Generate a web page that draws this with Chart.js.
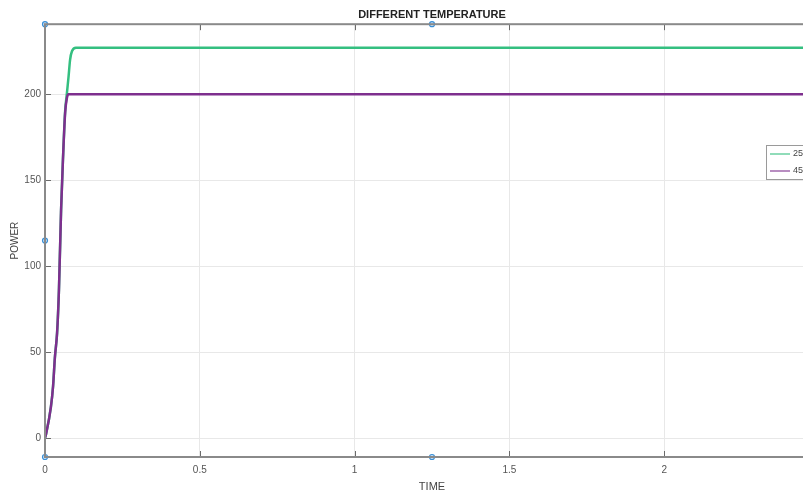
<!DOCTYPE html>
<html>
<head>
<meta charset="utf-8">
<script src="https://cdn.jsdelivr.net/npm/chart.js@4"></script>
<style>
  html, body { margin: 0; padding: 0; background: #fff; overflow: hidden; }
  #wrap { position: relative; width: 840px; height: 497px; }
</style>
</head>
<body>
<div id="wrap"><canvas id="chart"></canvas></div>
<script>
// values
const time = [0, 0.003, 0.019, 0.026, 0.032, 0.039, 0.045, 0.052, 0.058, 0.065, 0.071, 0.076, 0.081, 0.087, 0.1, 0.2, 2.5];
const power25 = [0, 2, 18, 30, 47, 61, 86, 133, 162, 190, 201, 210, 220, 225, 227, 227, 227];
const power45 = [0, 2, 18, 30, 47, 61, 86, 133, 162, 189, 198, 200, 200, 200, 200, 200, 200];
const seriesLabels = ['25°C', '45°C'];
const xTicks = [0, 0.5, 1, 1.5, 2, 2.5];
const yTicks = [0, 50, 100, 150, 200];
const X_MIN = 0, X_MAX = 2.5, Y_MIN = -11, Y_MAX = 240.7;
// selection handles visible on the pasted figure
const handleX = [0, 1.25, 0, 0, 1.25];
const handleY = [Y_MAX, Y_MAX, (Y_MAX + Y_MIN) / 2, Y_MIN, Y_MIN];

const GREEN = '#34bf80';
const PURPLE = '#7e2f8e';
const FONT = "'Liberation Sans', Arial, sans-serif";

const toPoints = (xs, ys) => xs.map((x, i) => ({ x, y: ys[i] }));

// box outline, inward tick marks and the legend, MATLAB style
const figureDecor = {
  id: 'figureDecor',
  afterDatasetsDraw(chart) {
    const { ctx, chartArea: a, scales } = chart;
    ctx.save();
    ctx.strokeStyle = '#6b6b6b';
    ctx.lineWidth = 1;
    scales.x.ticks.forEach((t) => {
      const px = Math.round(scales.x.getPixelForValue(t.value)) + 0.5;
      ctx.beginPath();
      ctx.moveTo(px, a.bottom); ctx.lineTo(px, a.bottom - 6);
      ctx.moveTo(px, a.top); ctx.lineTo(px, a.top + 6);
      ctx.stroke();
    });
    scales.y.ticks.forEach((t) => {
      const py = Math.round(scales.y.getPixelForValue(t.value)) + 0.5;
      ctx.beginPath();
      ctx.moveTo(a.left, py); ctx.lineTo(a.left + 6, py);
      ctx.stroke();
    });
    ctx.strokeStyle = '#8a8a8a';
    ctx.lineWidth = 2;
    ctx.strokeRect(a.left, a.top, a.right - a.left, a.bottom - a.top);

    // legend box
    const lx = 766, ly = 145, lw = 50, lh = 34;
    ctx.fillStyle = '#fff';
    ctx.fillRect(lx, ly, lw, lh);
    ctx.strokeStyle = '#9a9a9a';
    ctx.lineWidth = 1;
    ctx.strokeRect(lx + 0.5, ly + 0.5, lw, lh);
    ctx.font = '9px ' + FONT;
    ctx.textBaseline = 'middle';
    [GREEN, PURPLE].forEach((c, i) => {
      const yy = ly + 9 + i * 17;
      ctx.strokeStyle = c;
      ctx.globalAlpha = 0.55;
      ctx.lineWidth = 2;
      ctx.beginPath(); ctx.moveTo(lx + 4, yy); ctx.lineTo(lx + 24, yy); ctx.stroke();
      ctx.globalAlpha = 1;
      ctx.fillStyle = '#444';
      ctx.fillText(seriesLabels[i], lx + 27, yy);
    });
    ctx.restore();
  }
};

new Chart(document.getElementById('chart'), {
  type: 'line',
  data: {
    datasets: [
      {
        label: seriesLabels[0], data: toPoints(time, power25), borderColor: GREEN,
        borderWidth: 2.5, pointRadius: 0, cubicInterpolationMode: 'monotone', order: 2,
      },
      {
        label: seriesLabels[1], data: toPoints(time, power45), borderColor: PURPLE,
        borderWidth: 2.5, pointRadius: 0, cubicInterpolationMode: 'monotone', order: 1,
      },
      {
        type: 'scatter', label: 'handles', data: toPoints(handleX, handleY), showLine: false,
        pointRadius: 2.5, pointBorderWidth: 1.2, pointBorderColor: '#3a8fd6',
        pointBackgroundColor: '#cfe6fa', clip: false, order: 0,
      },
    ],
  },
  options: {
    responsive: true, maintainAspectRatio: false, animation: false,
    layout: { padding: { left: 0, right: 21, top: 0, bottom: 0 } },
    plugins: {
      legend: { display: false },
      tooltip: { enabled: false },
      title: {
        display: true, text: 'DIFFERENT TEMPERATURE', fullSize: false, color: '#222',
        font: { family: FONT, size: 11, weight: 'bold' }, padding: { top: 8, bottom: 3 },
      },
    },
    scales: {
      x: {
        type: 'linear', min: X_MIN, max: X_MAX,
        afterBuildTicks: (s) => { s.ticks = xTicks.map((v) => ({ value: v })); },
        afterFit: (s) => { s.height = 40; },
        ticks: { color: '#555', font: { family: FONT, size: 10 }, padding: 7, maxRotation: 0,
          callback: (v) => String(v) },
        grid: { color: '#e8e8e8', drawTicks: false },
        border: { display: false },
        title: { display: true, text: 'TIME', color: '#444', font: { family: FONT, size: 11 },
          padding: { top: 0, bottom: 3 } },
      },
      y: {
        min: Y_MIN, max: Y_MAX,
        afterBuildTicks: (s) => { s.ticks = yTicks.map((v) => ({ value: v })); },
        afterFit: (s) => { s.width = 45; },
        ticks: { color: '#555', font: { family: FONT, size: 10 }, padding: 4 },
        grid: { color: '#e8e8e8', drawTicks: false },
        border: { display: false },
        title: { display: true, text: 'POWER', color: '#444', font: { family: FONT, size: 10 },
          padding: { top: 9, bottom: 0 } },
      },
    },
  },
  plugins: [figureDecor],
});
</script>
</body>
</html>
